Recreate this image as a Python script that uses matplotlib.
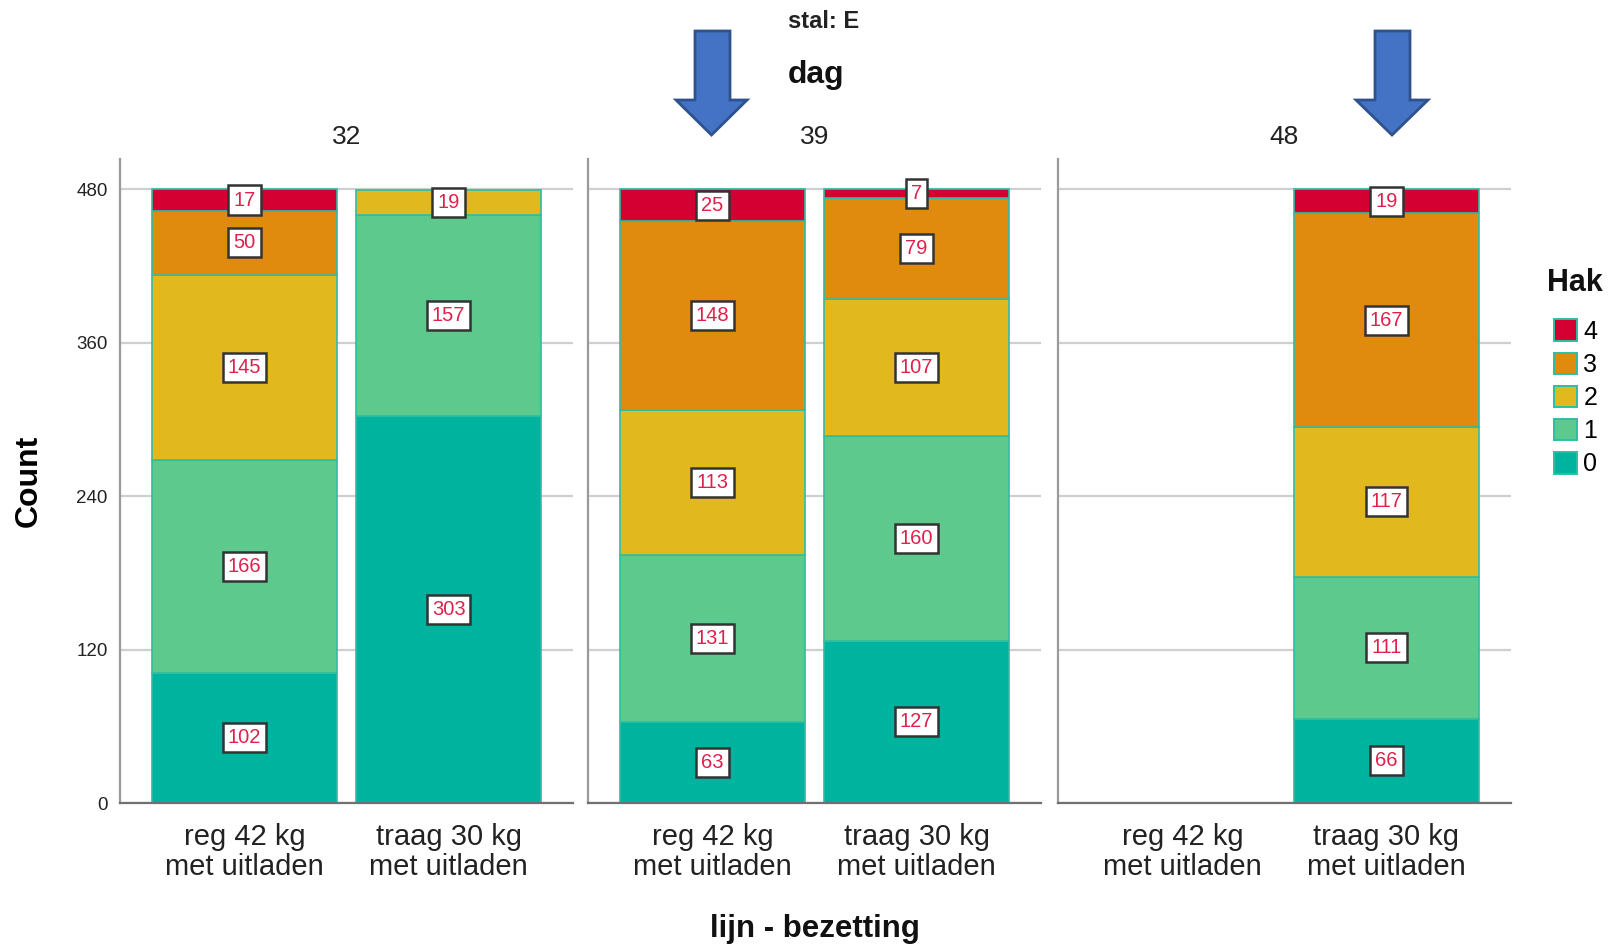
import matplotlib
matplotlib.use("Agg")
import matplotlib.pyplot as plt
from matplotlib.patches import Patch, Polygon
import numpy as np

plt.rcParams['font.family'] = ['Liberation Sans', 'DejaVu Sans']

# Data: counts per Hak level (0..4) per dag and lijn
days = ["32", "39", "48"]
lines = ["reg 42 kg\nmet uitladen", "traag 30 kg\nmet uitladen"]
hak_levels = ["0", "1", "2", "3", "4"]
hak_colors = ["#00B39E", "#5DC98C", "#E1B91E", "#E08A0E", "#D50032"]

# counts[day] -> [reg list, traag list], each list in Hak order 0..4 (None = no bar)
counts_32 = [[102, 166, 145, 50, 17], [303, 157, 19, 0, 0]]
counts_39 = [[63, 131, 113, 148, 25], [127, 160, 107, 79, 7]]
counts_48 = [None, [66, 111, 117, 167, 19]]
counts = [counts_32, counts_39, counts_48]

yticks = [0, 120, 240, 360, 480]

fig = plt.figure(figsize=(16.11, 9.47), dpi=100)

panel_left = [0.0745, 0.365, 0.6567]
panel_w = 0.2812
ax_bottom = 0.152
ax_h = 0.680

axes = []
for p, day in enumerate(days):
    ax = fig.add_axes([panel_left[p], ax_bottom, panel_w, ax_h])
    axes.append(ax)
    ax.set_xlim(-0.61, 1.61)
    ax.set_ylim(0, 503.5)
    ax.set_yticks(yticks)
    ax.yaxis.grid(True, color="#cfcfcf", linewidth=1.6)
    ax.set_axisbelow(True)
    for s in ["top", "right"]:
        ax.spines[s].set_visible(False)
    ax.spines["left"].set_color("#9a9a9a")
    ax.spines["left"].set_linewidth(1.6)
    ax.spines["bottom"].set_color("#707070")
    ax.spines["bottom"].set_linewidth(1.6)
    ax.tick_params(axis="both", length=0)
    ax.set_xticks([0, 1])
    ax.set_xticklabels(lines, fontsize=21, color="#222222", linespacing=1.1)
    ax.tick_params(axis="x", pad=14)
    if p == 0:
        ax.tick_params(axis="y", labelsize=13.5, labelcolor="#222222", pad=9)
    else:
        ax.tick_params(axis="y", labelleft=False)
    ax.set_title(day, fontsize=19, color="#222222", pad=11)

    for i, c in enumerate(counts[p]):
        if c is None:
            continue
        bottom = 0
        for k, v in enumerate(c):
            if v == 0:
                continue
            ax.bar(i, v, bottom=bottom, width=0.91, color=hak_colors[k],
                   edgecolor="#2BBFA2", linewidth=1.2, zorder=2)
            ax.text(i, bottom + v / 2, str(v), ha="center", va="center",
                    fontsize=14.5, color="#E0204A", zorder=5,
                    bbox=dict(boxstyle="square,pad=0.25", facecolor="white",
                              edgecolor="#333333", linewidth=1.8))
            bottom += v

axes[0].set_ylabel("Count", fontsize=23, fontweight="bold", labelpad=23)

fig.text(824 / 1611, 1 - 21 / 947, "stal: E", ha="center", va="center",
         fontsize=17, fontweight="bold", color="#222222")
fig.text(816 / 1611, 1 - 75 / 947, "dag", ha="center", va="center",
         fontsize=23, fontweight="bold", color="#111111")
fig.text(815 / 1611, 1 - 929 / 947, "lijn - bezetting", ha="center", va="center",
         fontsize=22.5, fontweight="bold", color="#111111")

# Blue down arrows (annotations)
def down_arrow(x0, x1, s0, s1, ytop, yhead, ytip):
    W, H = 1611.0, 947.0
    pts = [(s0, ytop), (s1, ytop), (s1, yhead), (x1, yhead),
           ((x0 + x1) / 2, ytip), (x0, yhead), (s0, yhead)]
    pts = [(x / W, 1 - y / H) for x, y in pts]
    fig.patches.append(Polygon(pts, closed=True, transform=fig.transFigure,
                               facecolor="#4472C4", edgecolor="#2F528F",
                               linewidth=2))

down_arrow(676, 747, 695, 730, 31, 100, 135)
down_arrow(1356, 1428, 1375, 1410, 31, 100, 135)

# Legend
fig.text(1547 / 1611, 1 - 283 / 947, "Hak", ha="left", va="center",
         fontsize=22, fontweight="bold", color="#111111")
handles = [Patch(facecolor=hak_colors[k], edgecolor="#2BBFA2", linewidth=1.4,
                 label=hak_levels[k]) for k in range(4, -1, -1)]
leg = fig.legend(handles=handles, loc="upper left",
                 bbox_to_anchor=(1536 / 1611, 1 - 302 / 947), frameon=False,
                 fontsize=18, handlelength=0.95, handleheight=0.95,
                 handletextpad=0.25, labelspacing=0.35, borderpad=0.2)

fig.savefig("out.png", dpi=100)
